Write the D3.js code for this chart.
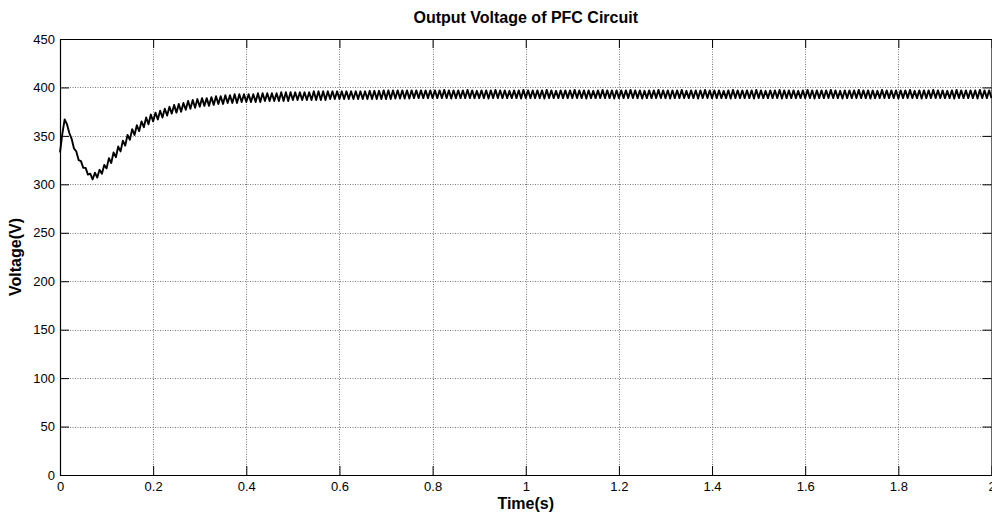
<!DOCTYPE html>
<html>
<head>
<meta charset="utf-8">
<script src="https://cdn.jsdelivr.net/npm/d3@7"></script>
<style>
  body { margin: 0; background: #fff; }
  svg { display: block; }
  text { font-family: "Liberation Sans", Arial, Helvetica, sans-serif; fill: #000; }
</style>
</head>
<body>
<svg id="chart" width="992" height="516"></svg>
<script>
// Simulated PFC output voltage, sampled every half ripple period (5 ms).
const timeStep = 0.005;

// 0 – 0.4 s : start-up overshoot, dip and recovery
const voltageStartup = [
  333, 352, 367, 362, 353, 347, 337, 334, 325, 324, 317, 317, 310,
  311, 305, 312, 307, 315, 311, 320, 316.5, 327, 322, 333, 328, 339, 334, 345, 340, 351, 346,
  357, 351, 361, 355, 365, 359, 369, 362, 372, 365, 374, 367, 376, 369, 378, 371, 380, 373,
  382, 374, 383, 375, 384, 377, 386, 378, 387, 379, 388, 380, 389, 381, 389, 381, 390, 382,
  391, 383, 391, 383, 392, 384, 392, 384, 393, 384, 393, 385, 393, 385
];

// 0.405 – 0.8 s : settling toward the regulated level
const voltageSettling = [
  393, 385, 393, 385, 394, 385, 394, 386, 394, 386, 394, 386, 394, 386, 395, 386, 395, 386, 395, 387,
  395, 387, 395, 387, 395, 387, 395, 387, 396, 387, 396, 387, 396, 387, 396, 388, 396, 388, 396, 388,
  396, 388, 396, 388, 396, 388, 396, 388, 396, 388, 396, 388, 396.5, 388, 396.5, 388, 396.5, 388, 397, 388,
  397, 388, 397, 388.5, 397, 388.5, 397, 388.5, 397, 388.5, 397, 389, 397, 389, 397, 389, 397, 389, 397, 389
];

// 0.805 – 2.0 s : steady state with 100 Hz ripple
const voltageSteady = [
  397, 389, 397, 389, 397.5, 389, 397, 388.5, 397, 389, 397, 389, 397, 389, 397.5, 389, 397, 389, 396.5, 389,
  397, 389, 397, 388.5, 397, 389, 397.5, 389, 397, 389, 397, 389, 396.5, 389, 397, 389, 397, 388.5, 397.5, 389,
  397, 389, 397, 389, 397, 389, 397, 388.5, 397.5, 389, 397, 389, 396.5, 389, 397, 389, 397, 389, 397, 389,
  397.5, 389, 397, 389, 397, 388.5, 397, 389, 396.5, 389, 397, 389, 397.5, 389, 397, 389, 397, 388.5, 397, 389,
  397, 389, 397, 389, 397.5, 389, 397, 389, 397, 388.5, 396.5, 389, 397, 389, 397, 389, 397.5, 389, 397, 389,
  397, 388.5, 397, 389, 397, 389, 397.5, 389, 396.5, 389, 397, 389, 397, 388.5, 397, 389, 397.5, 389, 397, 389,
  397, 389, 397, 389, 396.5, 389, 397, 388.5, 397.5, 389, 397, 389, 397, 389, 397, 389, 397, 388.5, 397.5, 389,
  397, 389, 396.5, 389, 397, 389, 397, 389, 397.5, 388.5, 397, 389, 397, 389, 397, 389, 396.5, 389, 397, 389,
  397.5, 389, 397, 388.5, 397, 389, 397, 389, 397, 389, 397.5, 389, 397, 389, 396.5, 388.5, 397, 389, 397, 389,
  397, 389, 397.5, 389, 397, 389, 397, 388.5, 397, 389, 396.5, 389, 397.5, 389, 397, 389, 397, 389, 397, 388.5,
  397, 389, 397, 389, 397.5, 389, 396.5, 389, 397, 388.5, 397, 389, 397, 389, 397.5, 389, 397, 389, 397, 389,
  396.5, 389, 397, 388.5, 397.5, 389, 397, 389, 397, 389, 397, 389, 397, 388.5, 397.5, 389, 397, 389, 397, 389
];

const voltage = voltageStartup.concat(voltageSettling, voltageSteady);

const xTicks = [0, 0.2, 0.4, 0.6, 0.8, 1, 1.2, 1.4, 1.6, 1.8, 2];
const xTickLabels = ["0", "0.2", "0.4", "0.6", "0.8", "1", "1.2", "1.4", "1.6", "1.8", "2"];
const yTicks = [0, 50, 100, 150, 200, 250, 300, 350, 400, 450];
const yTickLabels = ["0", "50", "100", "150", "200", "250", "300", "350", "400", "450"];

const titleText = "Output Voltage of PFC Circuit";
const xLabelText = "Time(s)";
const yLabelText = "Voltage(V)";

// Plot area
const plotLeft = 60, plotRight = 991.5, plotTop = 39, plotBottom = 475;
const tickLen = 9;

const svg = d3.select("#chart");
svg.append("rect").attr("width", 992).attr("height", 516).attr("fill", "#fff");

const x = d3.scaleLinear().domain([0, 2]).range([plotLeft, plotRight]);
const y = d3.scaleLinear().domain([0, 450]).range([plotBottom, plotTop]);

// Dotted grid
const grid = svg.append("g")
  .attr("stroke", "#7a7a7a")
  .attr("stroke-width", 1)
  .attr("stroke-dasharray", "1,1.5");
grid.selectAll("line.gx")
  .data(xTicks.filter(t => t > 0 && t < 2))
  .join("line")
  .attr("class", "gx")
  .attr("x1", d => Math.round(x(d)) + 0.5).attr("x2", d => Math.round(x(d)) + 0.5)
  .attr("y1", plotTop).attr("y2", plotBottom);
grid.selectAll("line.gy")
  .data(yTicks.filter(t => t > 0 && t < 450))
  .join("line")
  .attr("class", "gy")
  .attr("y1", d => Math.round(y(d)) + 0.5).attr("y2", d => Math.round(y(d)) + 0.5)
  .attr("x1", plotLeft).attr("x2", plotRight);

// Signal trace
const line = d3.line()
  .x((d, i) => x(i * timeStep))
  .y(d => y(d));
svg.append("path")
  .datum(voltage)
  .attr("fill", "none")
  .attr("stroke", "#000")
  .attr("stroke-width", 1.9)
  .attr("stroke-linejoin", "round")
  .attr("d", line);

// Axes with inward ticks on all four sides
const fmtX = (d, i) => xTickLabels[i];
const fmtY = (d, i) => yTickLabels[i];

function styleAxis(g) {
  g.attr("font-family", null).attr("font-size", null);
  g.selectAll("path.domain").attr("stroke", "#000").attr("stroke-width", 1.2);
  g.selectAll(".tick line").attr("stroke", "#000").attr("stroke-width", 1);
  g.selectAll("text").attr("font-size", "13px").attr("fill", "#000");
}

svg.append("g")
  .attr("transform", `translate(0,${plotBottom})`)
  .call(d3.axisBottom(x).tickValues(xTicks).tickFormat(fmtX).tickSize(-tickLen).tickSizeOuter(0).tickPadding(6.5))
  .call(styleAxis);

svg.append("g")
  .attr("transform", `translate(0,${plotTop})`)
  .call(d3.axisTop(x).tickValues(xTicks).tickFormat("").tickSize(-tickLen).tickSizeOuter(0))
  .call(styleAxis);

svg.append("g")
  .attr("transform", `translate(${plotLeft},0)`)
  .call(d3.axisLeft(y).tickValues(yTicks).tickFormat(fmtY).tickSize(-tickLen).tickSizeOuter(0).tickPadding(5))
  .call(styleAxis);

svg.append("g")
  .attr("transform", `translate(${plotRight},0)`)
  .call(d3.axisRight(y).tickValues(yTicks).tickFormat("").tickSize(-tickLen).tickSizeOuter(0))
  .call(styleAxis);

// Title and axis labels
const cx = (plotLeft + plotRight) / 2;
svg.append("text")
  .attr("x", cx).attr("y", 22.5)
  .attr("text-anchor", "middle")
  .attr("font-size", "16px").attr("font-weight", "bold")
  .text(titleText);

svg.append("text")
  .attr("x", cx).attr("y", 509)
  .attr("text-anchor", "middle")
  .attr("font-size", "16px").attr("font-weight", "bold")
  .text(xLabelText);

svg.append("text")
  .attr("transform", `translate(21,${(plotTop + plotBottom) / 2}) rotate(-90)`)
  .attr("text-anchor", "middle")
  .attr("font-size", "16px").attr("font-weight", "bold")
  .text(yLabelText);
</script>
</body>
</html>
